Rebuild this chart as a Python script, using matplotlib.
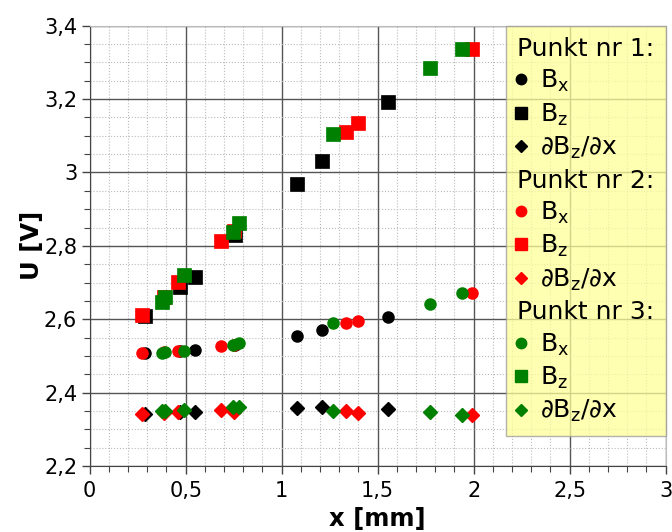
import numpy as np
import matplotlib
matplotlib.use("Agg")
import matplotlib.pyplot as plt
from matplotlib.lines import Line2D
from matplotlib.ticker import MultipleLocator, FuncFormatter

# Punkt nr 1 (black)
x1 = [0.29, 0.47, 0.55, 0.755, 1.08, 1.21, 1.555]
bx1 = [2.509, 2.513, 2.516, 2.530, 2.555, 2.571, 2.607]
bz1 = [2.609, 2.689, 2.714, 2.830, 2.969, 3.032, 3.193]
db1 = [2.342, 2.346, 2.347, 2.354, 2.357, 2.360, 2.355]

# Punkt nr 2 (red)
x2 = [0.27, 0.385, 0.46, 0.685, 0.75, 1.335, 1.395, 1.99]
bx2 = [2.507, 2.510, 2.514, 2.526, 2.530, 2.591, 2.596, 2.671]
bz2 = [2.612, 2.660, 2.702, 2.813, 2.840, 3.111, 3.134, 3.337]
db2 = [2.341, 2.344, 2.347, 2.352, 2.348, 2.349, 2.344, 2.338]

# Punkt nr 3 (green)
x3 = [0.375, 0.39, 0.49, 0.745, 0.78, 1.265, 1.775, 1.94]
bx3 = [2.509, 2.510, 2.514, 2.530, 2.535, 2.591, 2.642, 2.671]
bz3 = [2.648, 2.662, 2.721, 2.839, 2.862, 3.104, 3.286, 3.336]
db3 = [2.349, 2.350, 2.353, 2.362, 2.360, 2.349, 2.347, 2.340]

points = [
    ("Punkt nr 1:", "black", x1, bx1, bz1, db1),
    ("Punkt nr 2:", "#ff0000", x2, bx2, bz2, db2),
    ("Punkt nr 3:", "#008000", x3, bx3, bz3, db3),
]

fig = plt.figure(figsize=(6.72, 5.32), dpi=100)
ax = fig.add_axes([0.1335, 0.124, 0.857, 0.8277])

handles = []
labels = []
for name, col, xs, bx, bz, db in points:
    ax.plot(xs, bx, "o", color=col, ms=8, mec=col, ls="none", zorder=3)
    ax.plot(xs, bz, "s", color=col, ms=10, mec=col, mew=0.5, ls="none", zorder=3)
    ax.plot(xs, db, "D", color=col, ms=7.5, mec=col, ls="none", zorder=3)
    handles.append(Line2D([], [], ls="none"))
    labels.append(name)
    handles.append(Line2D([], [], marker="o", color=col, ls="none", ms=7.5))
    labels.append("B$_\\mathregular{x}$")
    handles.append(Line2D([], [], marker="s", color=col, ls="none", ms=8.5))
    labels.append("B$_\\mathregular{z}$")
    handles.append(Line2D([], [], marker="D", color=col, ls="none", ms=6.5))
    labels.append("∂B$_\\mathregular{z}$/∂x")

ax.set_xlim(0, 3)
ax.set_ylim(2.2, 3.4)
ax.xaxis.set_major_locator(MultipleLocator(0.5))
ax.xaxis.set_minor_locator(MultipleLocator(0.1))
ax.yaxis.set_major_locator(MultipleLocator(0.2))
ax.yaxis.set_minor_locator(MultipleLocator(0.05))
fmt = FuncFormatter(lambda v, p: f"{v:g}".replace(".", ","))
ax.xaxis.set_major_formatter(fmt)
ax.yaxis.set_major_formatter(fmt)

ax.grid(which="major", color="#555555", lw=1.0)
ax.grid(which="minor", color="#bbbbbb", lw=0.8, ls=":")
ax.set_axisbelow(True)
ax.tick_params(which="major", length=6, width=1, color="#444444", labelsize=15, pad=3)
ax.tick_params(axis="x", which="major", pad=5)
ax.tick_params(which="minor", length=4, width=0.8, color="#444444")
for s in ["left", "bottom"]:
    ax.spines[s].set_color("#444444")
for s in ["top", "right"]:
    ax.spines[s].set_color("#bbbbbb")

ax.set_xlabel("x [mm]", fontsize=17.5, fontweight="bold", labelpad=4)
ax.set_ylabel("U [V]", fontsize=17.5, fontweight="bold", labelpad=0)

leg = ax.legend(handles, labels, loc="upper right", borderaxespad=0,
                fontsize=18, fancybox=False, framealpha=0.75,
                facecolor="#ffff99", edgecolor="#999999",
                handlelength=0.3, handletextpad=0.62, labelspacing=0.29,
                borderpad=0.45)
leg.get_frame().set_linewidth(1.0)
# header rows have no symbol: start their text where the symbols are
for column in leg._legend_handle_box.get_children():
    for row in column.get_children():
        h, t = row.get_children()
        if t._text.get_text().startswith("Punkt"):
            h.width = -leg.handletextpad * leg._fontsize

fig.savefig("out.png", dpi=100)
